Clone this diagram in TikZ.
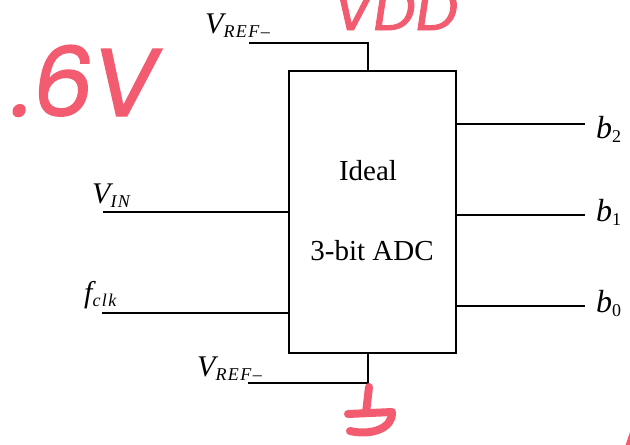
\documentclass[tikz,border=0pt]{standalone}
\usepackage{fontspec}
\setmainfont{Liberation Serif}
\newfontfamily\hand[FakeSlant=0.15,FakeBold=1.5]{Poppins}
\definecolor{pen}{RGB}{243,92,112}
\newcommand\subtxt[1]{\raisebox{-4pt}{\fontsize{18}{18}\selectfont\addfontfeatures{LetterSpace=8}#1}}
\begin{document}
\begin{tikzpicture}[x=1pt,y=-1pt,
  wire/.style={line width=1.4pt},
  lbl/.style={inner sep=0pt, font=\fontsize{30}{30}\selectfont\itshape, anchor=base west},
  blbl/.style={lbl, font=\fontsize{32}{32}\selectfont\itshape},
  boxtxt/.style={inner sep=0pt, anchor=base, font=\fontsize{29}{29}\selectfont},
  hw/.style={text=pen, inner sep=0pt, anchor=base west},
  stroke/.style={draw=pen, line width=8pt, line cap=round, line join=round}]
\useasboundingbox (0,0) rectangle (630,445);
\clip (0,0) rectangle (630,445);
\fill[white] (0,0) rectangle (630,445);
% block
\node[draw, line width=1.6pt, minimum width=167pt, minimum height=282pt, inner sep=0pt] (adc) at (372.5,212) {};
\node[boxtxt] (t1) at (368,180) {Ideal};
\node[boxtxt] (t2) at (372,260) {3-bit ADC};
% wire ends
\coordinate (vtopend) at (249,43);
\coordinate (vbotend) at (248,383);
\coordinate (vinend) at (103,212);
\coordinate (fclkend) at (102,313);
\coordinate (b2end) at (585,124);
\coordinate (b1end) at (585,215);
\coordinate (b0end) at (585,306);
% wires
\draw[wire] ([xshift=-4.5pt]adc.north) |- (vtopend);
\draw[wire] ([xshift=-4.5pt]adc.south) |- (vbotend);
\draw[wire] (vinend) -- (vinend -| adc.west);
\draw[wire] (fclkend) -- (fclkend -| adc.west);
\draw[wire] (b2end -| adc.east) -- (b2end);
\draw[wire] (b1end -| adc.east) -- (b1end);
\draw[wire] (b0end -| adc.east) -- (b0end);
% labels
\node[lbl] (lvreft) at (205,33) {V\subtxt{REF–}};
\node[lbl] (lvrefb) at (197,376) {V\subtxt{REF–}};
\node[lbl] (lvin) at (92,203) {V\subtxt{IN}};
\node[lbl] (lfclk) at (84,302) {f\subtxt{clk}};
\node[blbl] (lb2) at (596,138) {b\subtxt{\upshape 2}};
\node[blbl] (lb1) at (596,221) {b\subtxt{\upshape 1}};
\node[blbl] (lb0) at (596,312) {b\subtxt{\upshape 0}};
% handwritten annotations
\node[hw, font=\hand\fontsize{96}{96}\selectfont] (sixv) at (8,116) {.6V};
\node[hw, font=\hand\fontsize{60}{60}\selectfont] (vdd) at (330,30) {VDD};
\coordinate (g1) at (369,387);
\coordinate (g2) at (366,413);
\coordinate (g3) at (348,414);
\coordinate (g4) at (392,412);
\coordinate (g5) at (350,431);
\draw[stroke] (g1) -- (g2);
\draw[stroke] (g3) -- (g4) .. controls (393,428) and (372,436) .. (g5);
\coordinate (c1) at (636,424);
\coordinate (c2) at (627,450);
\draw[stroke, line width=6pt] (c1) -- (c2);
\end{tikzpicture}
\end{document}
